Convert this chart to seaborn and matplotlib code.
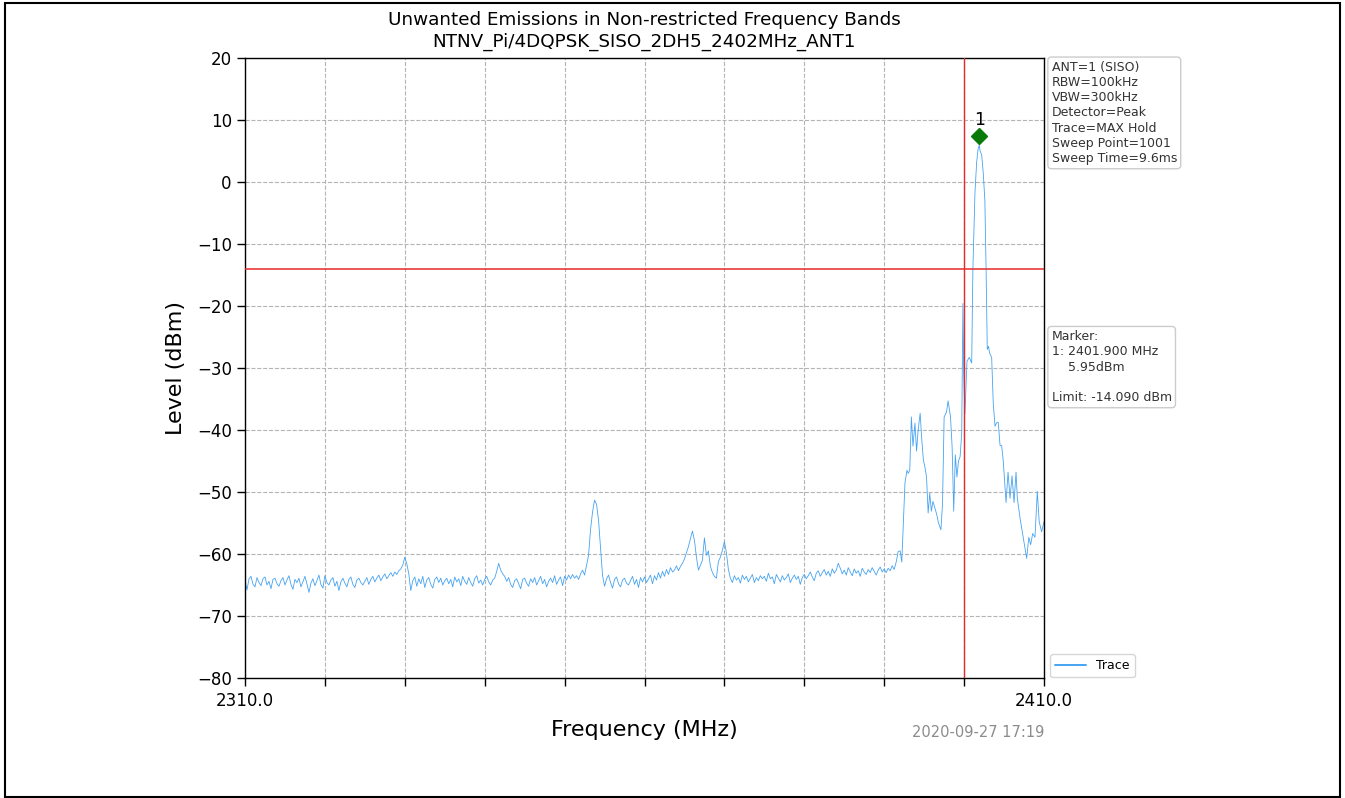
import numpy as np
import pandas as pd
import matplotlib
matplotlib.use("Agg")
import matplotlib.pyplot as plt
import seaborn as sns
from matplotlib.patches import Rectangle

# ---- data -------------------------------------------------------------
base_start, base_step = 2310.0, 0.25
base_levels = [
    -64.2, -65.8, -64.0, -63.6, -64.9, -65.3, -63.8, -64.6, -65.1, -64.0, -63.7, -65.0, -64.4, -65.6, -64.1, -63.9, -64.8, -65.2, -64.3, -63.8,
    -65.0, -64.2, -63.5, -64.9, -65.7, -64.1, -64.6, -63.9, -65.3, -64.5, -63.6, -64.8, -66.2, -64.7, -64.0, -65.1, -64.3, -63.4, -64.9, -65.5,
    -63.5, -64.6, -65.0, -64.2, -63.8, -65.2, -64.4, -65.9, -64.5, -63.9, -64.7, -65.3, -64.1, -63.7, -64.9, -65.4, -64.2, -63.9, -64.6, -65.0,
    -64.4, -63.8, -64.9, -64.1, -63.6, -64.5, -63.9, -63.4, -64.3, -63.7, -63.2, -64.0, -63.5, -63.0, -63.6, -62.9, -63.3, -62.7, -62.4, -61.8,
    -60.5, -61.6, -63.2, -65.9, -64.3, -63.7, -65.2, -64.0, -64.8, -63.6, -65.4, -64.2, -63.8, -64.9, -65.5, -64.1, -63.7, -64.6, -63.9, -65.0,
    -64.3, -63.9, -64.8, -64.1, -65.3, -63.7, -64.5, -64.0, -65.1, -63.6, -64.4, -64.9, -63.8, -64.6, -65.2, -64.0, -63.5, -64.7, -64.2, -65.0,
    -64.1, -63.6, -64.5, -65.0, -64.2, -63.9, -62.8, -61.5, -62.6, -63.2, -63.6, -64.4, -63.8, -64.9, -65.4, -64.3, -64.0, -64.8, -65.6, -64.1,
    -63.9, -64.7, -65.2, -64.0, -64.6, -63.8, -65.0, -64.3, -63.6, -64.8, -64.1, -65.3, -64.4, -63.9, -64.6, -63.5, -64.9, -64.2, -63.7, -65.1,
    -63.6, -64.2, -63.4, -64.0, -63.3, -63.9, -63.5, -64.1, -63.2, -62.6, -63.4, -61.8, -60.2, -56.0, -53.2, -51.3, -52.0, -54.6, -59.0, -63.5,
    -65.2, -64.0, -63.4, -64.6, -65.5, -64.1, -63.7, -64.8, -65.3, -64.2, -63.9, -64.7, -65.0, -64.3, -63.6, -64.9, -64.1, -65.4, -63.8, -64.5,
    -63.7, -64.6, -64.0, -63.4, -64.8, -63.5, -64.2, -63.0, -63.9, -62.8, -63.6, -62.5, -63.3, -62.2, -62.9, -62.6, -61.9, -62.7, -62.0, -61.5,
    -60.8, -59.8, -58.8, -57.5, -56.3, -57.8, -60.5, -62.6, -61.8, -61.0, -57.4, -60.2, -59.5, -62.0, -63.0, -63.6, -63.9, -61.2, -60.5, -59.4,
    -58.0, -59.8, -62.5, -63.9, -64.6, -63.5, -64.2, -63.8, -64.7, -63.4, -64.1, -63.6, -64.5, -63.9, -63.3, -64.6, -63.8, -64.3, -63.5, -64.0,
    -63.6, -64.4, -63.1, -64.0, -63.7, -64.8, -63.3, -63.9, -64.5, -63.5, -64.2, -63.8, -63.2, -64.6, -63.9, -63.4, -64.1, -63.6, -64.9, -63.8,
    -63.3, -64.0, -63.5, -62.9, -63.7, -64.3, -63.1, -62.7, -63.6, -63.0, -62.5, -63.4, -62.8, -63.6, -62.4, -63.1, -62.6, -61.5, -62.3, -63.2,
    -62.6, -63.4, -62.2, -62.9, -63.5, -62.4, -63.1, -62.7, -63.6, -62.3, -62.9, -63.3, -62.5, -63.0, -62.2, -62.8, -63.4, -62.6, -62.1, -62.9,
    -62.4, -63.0, -62.3, -62.7, -61.9, -62.5, -61.3, -59.6, -59.5,
]
peak_freqs = [
    2392.2, 2392.4, 2392.6, 2392.85, 2393.0, 2393.2, 2393.4, 2393.6, 2393.85, 2394.05,
    2394.25, 2394.5, 2394.7, 2394.9, 2395.1, 2395.3, 2395.5, 2395.7, 2395.9, 2396.1,
    2396.3, 2396.55, 2396.8, 2397.1, 2397.3, 2397.5, 2397.8, 2398.0, 2398.3, 2398.5,
    2398.7, 2398.9, 2399.1, 2399.3, 2399.5, 2399.7, 2399.85, 2399.95, 2400.1, 2400.36,
    2400.65, 2400.95, 2401.1, 2401.36, 2401.57, 2401.75, 2401.9, 2402.0, 2402.2, 2402.4,
    2402.6, 2402.75, 2402.9, 2403.05, 2403.2, 2403.45, 2403.65, 2403.87, 2404.08, 2404.28,
    2404.5, 2404.7, 2404.9, 2405.25, 2405.5, 2405.75, 2406.0, 2406.25, 2406.5, 2406.66,
    2407.0, 2407.4, 2407.83, 2408.1, 2408.33, 2408.58, 2408.87, 2409.16, 2409.4, 2409.7,
    2410.0,
]
peak_levels = [
    -61.3, -55.0, -48.5, -46.5, -47.0, -46.5, -37.9, -42.6, -38.9, -43.4,
    -40.0, -37.3, -41.5, -44.8, -46.0, -47.6, -53.4, -50.2, -53.1, -51.5,
    -52.4, -53.5, -55.0, -56.1, -51.8, -37.9, -37.1, -35.3, -37.9, -42.7,
    -53.1, -44.0, -47.6, -45.0, -44.3, -40.6, -19.6, -30.7, -37.5, -28.9,
    -28.3, -29.2, -14.1, -1.7, 3.2, 5.3, 5.95, 5.0, 4.4, 1.4,
    -3.0, -14.0, -27.0, -26.5, -27.6, -28.3, -35.7, -39.4, -38.8, -38.8,
    -42.5, -42.5, -45.0, -51.7, -46.8, -51.0, -47.4, -51.7, -46.8, -51.0,
    -54.2, -57.3, -60.7, -57.3, -58.5, -56.7, -57.3, -49.9, -54.8, -56.4,
    -54.8,
]
limit_level = -14.090
marker_freq, marker_level = 2401.900, 5.95
band_edge = 2400.0
x_ticks = [2310, 2320, 2330, 2340, 2350, 2360, 2370, 2380, 2390, 2400, 2410]
x_tick_labels = ["2310.0", "", "", "", "", "", "", "", "", "", "2410.0"]
y_ticks = [20, 10, 0, -10, -20, -30, -40, -50, -60, -70, -80]

title = "Unwanted Emissions in Non-restricted Frequency Bands\nNTNV_Pi/4DQPSK_SISO_2DH5_2402MHz_ANT1"
settings_text = ("ANT=1 (SISO)\nRBW=100kHz\nVBW=300kHz\nDetector=Peak\n"
                 "Trace=MAX Hold\nSweep Point=1001\nSweep Time=9.6ms")
marker_text = "Marker:\n1: 2401.900 MHz\n    5.95dBm\n\nLimit: -14.090 dBm"
timestamp = "2020-09-27 17:19"

# ---- frame ----------------------------------------------------------
base_freqs = base_start + base_step * np.arange(len(base_levels))
df = pd.DataFrame({
    "Frequency": np.concatenate([base_freqs, peak_freqs]),
    "Level": np.concatenate([base_levels, peak_levels]),
})

sns.set_style("ticks")
plt.rcParams["font.family"] = ["DejaVu Sans"]
plt.rcParams["text.color"] = "black"
plt.rcParams["axes.labelcolor"] = "black"
plt.rcParams["xtick.color"] = "black"
plt.rcParams["ytick.color"] = "black"

fig = plt.figure(figsize=(13.45, 7.98), dpi=100)
ax = fig.add_axes([245 / 1345, 1 - 678 / 798, (1044 - 245) / 1345, (678 - 58) / 798])

sns.lineplot(data=df, x="Frequency", y="Level", ax=ax, color="#46a3f2",
             linewidth=0.6, label="Trace", sort=False)

ax.axhline(limit_level, color="#e8282b", linewidth=1.1, zorder=3)
ax.axvline(band_edge, color="#e8282b", linewidth=1.0, zorder=3)
ax.plot([marker_freq], [marker_level + 1.5], marker="D", color="#0a7a0a",
        markersize=8, linestyle="none", zorder=5)
ax.text(marker_freq, marker_level + 2.6, "1", ha="center", va="bottom", fontsize=12.5)

ax.set_xlim(2310, 2410)
ax.set_ylim(-80, 20)
ax.set_xticks(x_ticks)
ax.set_xticklabels(x_tick_labels)
ax.set_yticks(y_ticks)
ax.tick_params(axis="x", length=6, width=1, pad=4, labelsize=12)
ax.tick_params(axis="y", length=6, width=1, labelsize=12)
ax.grid(True, linestyle="--", color="#b4b4b4", linewidth=0.8)
for s in ax.spines.values():
    s.set_visible(True)
    s.set_color("black")
    s.set_linewidth(1.0)

ax.set_title(title, fontsize=13.2, pad=8, linespacing=1.25, color="black")
ax.set_xlabel("Frequency (MHz)", fontsize=16, labelpad=7)
ax.set_ylabel("Level (dBm)", fontsize=16, labelpad=8)

box = dict(boxstyle="round,pad=0.3", facecolor="white", edgecolor="#cccccc", linewidth=1)
ax.text(1.0095, 0.9955, settings_text, transform=ax.transAxes, fontsize=9,
        va="top", ha="left", bbox=box, color="#333333", linespacing=1.22)
ax.text(1.0095, 0.561, marker_text, transform=ax.transAxes, fontsize=9,
        va="top", ha="left", bbox=box, color="#333333", linespacing=1.22)
ax.text(1.0, -0.088, timestamp, transform=ax.transAxes, fontsize=10.5,
        ha="right", va="center", color="#8c8c8c")

leg = ax.legend(loc="lower left", bbox_to_anchor=(1.003, -0.005), fontsize=9,
                frameon=True, handlelength=2.5, borderaxespad=0.3)
leg.get_frame().set_edgecolor("#cccccc")
for h in leg.get_lines():
    h.set_linewidth(1.4)

fig.patches.append(Rectangle((5 / 1345, 1 - 797 / 798), 1335 / 1345, 794 / 798,
                             transform=fig.transFigure, fill=False,
                             edgecolor="black", linewidth=1.5))

fig.savefig("out.png", dpi=100)
